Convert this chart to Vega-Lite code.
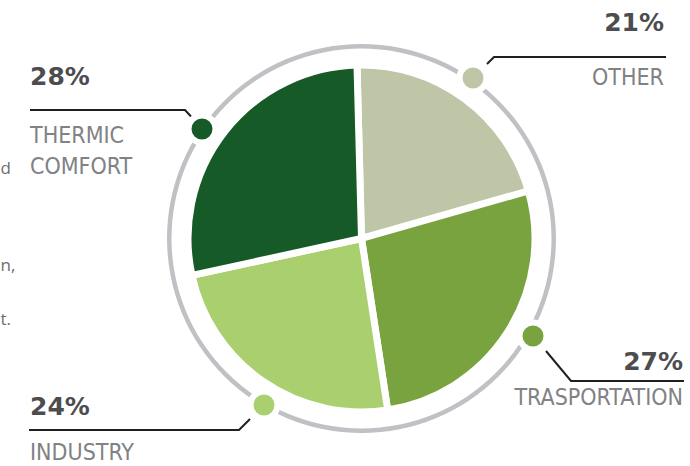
{
  "$schema": "https://vega.github.io/schema/vega-lite/v6.json",
  "width": 690,
  "height": 466,
  "autosize": {"type": "none"},
  "padding": 0,
  "background": "white",
  "config": {"view": {"stroke": null}},
  "datasets": {
    "shares": [
      {"category": "OTHER", "pct": 21, "idx": 1},
      {"category": "TRASPORTATION", "pct": 27, "idx": 2},
      {"category": "INDUSTRY", "pct": 24, "idx": 3},
      {"category": "THERMIC COMFORT", "pct": 28, "idx": 4}
    ],
    "ring": [{"v": 1}],
    "dots": [
      {"category": "THERMIC COMFORT", "x": -159.5, "y": -109.5},
      {"category": "OTHER", "x": 111.5, "y": -160.5},
      {"category": "TRASPORTATION", "x": 171.5, "y": 97.5},
      {"category": "INDUSTRY", "x": -97.5, "y": 166.5}
    ],
    "leaders": [
      {"g": "THERMIC COMFORT", "i": 1, "x": -331.5, "y": -128.5},
      {"g": "THERMIC COMFORT", "i": 2, "x": -176.5, "y": -128.5},
      {"g": "THERMIC COMFORT", "i": 3, "x": -170.5, "y": -122},
      {"g": "OTHER", "i": 1, "x": 125.5, "y": -174.5},
      {"g": "OTHER", "i": 2, "x": 132.5, "y": -181.5},
      {"g": "OTHER", "i": 3, "x": 304.5, "y": -181.5},
      {"g": "TRASPORTATION", "i": 1, "x": 184.5, "y": 112.5},
      {"g": "TRASPORTATION", "i": 2, "x": 209.5, "y": 142.5},
      {"g": "TRASPORTATION", "i": 3, "x": 322.5, "y": 142.5},
      {"g": "INDUSTRY", "i": 1, "x": -332.5, "y": 191.5},
      {"g": "INDUSTRY", "i": 2, "x": -122.5, "y": 191.5},
      {"g": "INDUSTRY", "i": 3, "x": -111.5, "y": 180.5}
    ],
    "labels": [
      {"side": "left", "pct": "28%", "name": "THERMIC\nCOMFORT", "x": -331.5, "py": -153.5, "ny": -95.5},
      {"side": "right", "pct": "21%", "name": "OTHER", "x": 302.5, "py": -207.5, "ny": -153.5},
      {"side": "right", "pct": "27%", "name": "TRASPORTATION", "x": 321.5, "py": 131.5, "ny": 166.5},
      {"side": "left", "pct": "24%", "name": "INDUSTRY", "x": -331.5, "py": 176.5, "ny": 221.5}
    ],
    "bodytext": [
      {"t": "d", "x": -361, "y": -64.5},
      {"t": "n,", "x": -361, "y": 32.5},
      {"t": "t.", "x": -361, "y": 86.5}
    ]
  },
  "layer": [
    {
      "data": {"name": "ring"},
      "mark": {"type": "arc", "innerRadius": 190, "outerRadius": 194.5, "fill": "#c1c1c5"},
      "encoding": {
        "theta": {"field": "v", "type": "quantitative"},
        "x": {"datum": 0, "type": "quantitative", "scale": {"domain": [-361.5, 328.5], "nice": false, "zero": false}, "axis": null},
        "y": {"datum": 0, "type": "quantitative", "scale": {"domain": [-238.5, 227.5], "nice": false, "zero": false, "reverse": true}, "axis": null}
      }
    },
    {
      "data": {"name": "shares"},
      "mark": {"type": "arc", "outerRadius": 173.5, "stroke": "white", "strokeWidth": 7},
      "encoding": {
        "theta": {"field": "pct", "type": "quantitative", "stack": true, "scale": {"range": [-0.026, 6.2572]}},
        "order": {"field": "idx", "type": "quantitative"},
        "color": {"field": "category", "type": "nominal", "legend": null,
          "scale": {"domain": ["THERMIC COMFORT", "OTHER", "TRASPORTATION", "INDUSTRY"], "range": ["#165b27", "#bfc6a8", "#79a33f", "#a9cf6f"]}},
        "x": {"datum": 0, "type": "quantitative", "scale": {"domain": [-361.5, 328.5], "nice": false, "zero": false}, "axis": null},
        "y": {"datum": 0, "type": "quantitative", "scale": {"domain": [-238.5, 227.5], "nice": false, "zero": false, "reverse": true}, "axis": null}
      }
    },
    {
      "data": {"name": "leaders"},
      "mark": {"type": "line", "stroke": "#231f20", "strokeWidth": 2, "interpolate": "linear"},
      "encoding": {
        "x": {"field": "x", "type": "quantitative", "scale": {"domain": [-361.5, 328.5], "nice": false, "zero": false}, "axis": null},
        "y": {"field": "y", "type": "quantitative", "scale": {"domain": [-238.5, 227.5], "nice": false, "zero": false, "reverse": true}, "axis": null},
        "detail": {"field": "g", "type": "nominal"},
        "order": {"field": "i", "type": "quantitative"}
      }
    },
    {
      "data": {"name": "dots"},
      "mark": {"type": "point", "filled": true, "shape": "circle", "size": 729, "stroke": "white", "strokeWidth": 6, "opacity": 1, "strokeOpacity": 1},
      "encoding": {
        "x": {"field": "x", "type": "quantitative", "scale": {"domain": [-361.5, 328.5], "nice": false, "zero": false}, "axis": null},
        "y": {"field": "y", "type": "quantitative", "scale": {"domain": [-238.5, 227.5], "nice": false, "zero": false, "reverse": true}, "axis": null},
        "fill": {"field": "category", "type": "nominal", "legend": null,
          "scale": {"domain": ["THERMIC COMFORT", "OTHER", "TRASPORTATION", "INDUSTRY"], "range": ["#165b27", "#bfc6a8", "#79a33f", "#a9cf6f"]}}
      }
    },
    {
      "data": {"name": "labels"},
      "transform": [{"filter": "datum.side === 'left'"}],
      "mark": {"type": "text", "align": "left", "baseline": "alphabetic", "font": "DejaVu Sans", "fontWeight": "bold", "fontSize": 25, "fill": "#4d4d4f"},
      "encoding": {
        "x": {"field": "x", "type": "quantitative", "scale": {"domain": [-361.5, 328.5], "nice": false, "zero": false}, "axis": null},
        "y": {"field": "py", "type": "quantitative", "scale": {"domain": [-238.5, 227.5], "nice": false, "zero": false, "reverse": true}, "axis": null},
        "text": {"field": "pct"}
      }
    },
    {
      "data": {"name": "labels"},
      "transform": [{"filter": "datum.side === 'right'"}],
      "mark": {"type": "text", "align": "right", "baseline": "alphabetic", "font": "DejaVu Sans", "fontWeight": "bold", "fontSize": 25, "fill": "#4d4d4f"},
      "encoding": {
        "x": {"field": "x", "type": "quantitative", "scale": {"domain": [-361.5, 328.5], "nice": false, "zero": false}, "axis": null},
        "y": {"field": "py", "type": "quantitative", "scale": {"domain": [-238.5, 227.5], "nice": false, "zero": false, "reverse": true}, "axis": null},
        "text": {"field": "pct"}
      }
    },
    {
      "data": {"name": "labels"},
      "transform": [{"filter": "datum.side === 'left'"}],
      "mark": {"type": "text", "align": "left", "baseline": "alphabetic", "font": "Liberation Sans Narrow, DejaVu Sans Condensed", "fontSize": 23, "fill": "#808285", "lineBreak": "\n", "lineHeight": 31},
      "encoding": {
        "x": {"field": "x", "type": "quantitative", "scale": {"domain": [-361.5, 328.5], "nice": false, "zero": false}, "axis": null},
        "y": {"field": "ny", "type": "quantitative", "scale": {"domain": [-238.5, 227.5], "nice": false, "zero": false, "reverse": true}, "axis": null},
        "text": {"field": "name"}
      }
    },
    {
      "data": {"name": "labels"},
      "transform": [{"filter": "datum.side === 'right'"}],
      "mark": {"type": "text", "align": "right", "baseline": "alphabetic", "font": "Liberation Sans Narrow, DejaVu Sans Condensed", "fontSize": 23, "fill": "#808285"},
      "encoding": {
        "x": {"field": "x", "type": "quantitative", "scale": {"domain": [-361.5, 328.5], "nice": false, "zero": false}, "axis": null},
        "y": {"field": "ny", "type": "quantitative", "scale": {"domain": [-238.5, 227.5], "nice": false, "zero": false, "reverse": true}, "axis": null},
        "text": {"field": "name"}
      }
    },
    {
      "data": {"name": "bodytext"},
      "mark": {"type": "text", "align": "left", "baseline": "alphabetic", "font": "Open Sans", "fontSize": 17, "fill": "#6d6e71"},
      "encoding": {
        "x": {"field": "x", "type": "quantitative", "scale": {"domain": [-361.5, 328.5], "nice": false, "zero": false}, "axis": null},
        "y": {"field": "y", "type": "quantitative", "scale": {"domain": [-238.5, 227.5], "nice": false, "zero": false, "reverse": true}, "axis": null},
        "text": {"field": "t"}
      }
    }
  ],
  "resolve": {"scale": {"theta": "independent"}}
}
